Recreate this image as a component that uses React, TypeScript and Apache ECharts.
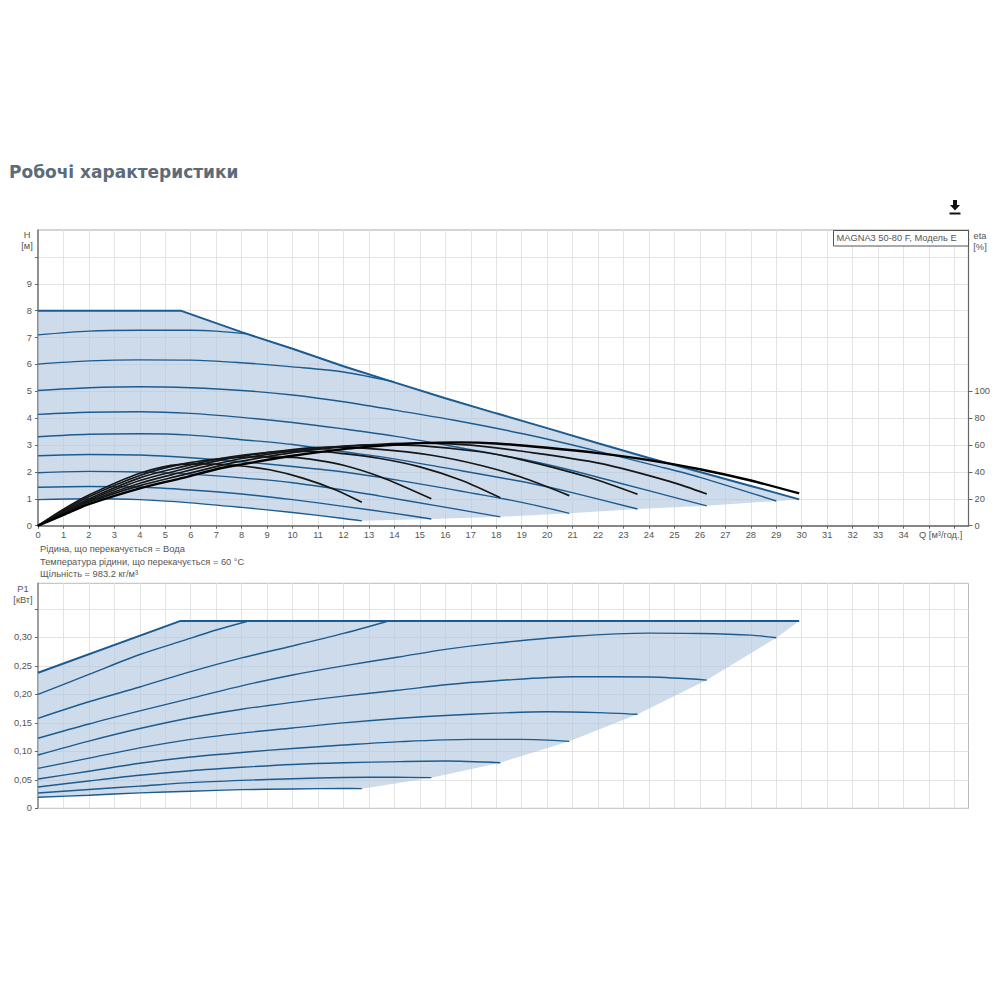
import { useEffect, useRef } from "react";
import * as echarts from "echarts";

type Pt = [number, number];

// H(Q), pump curves from the highest speed down
const hEdge: Pt[] = [[0, 8], [5.6, 8], [8, 7.2], [10, 6.58], [12, 5.93], [14, 5.33], [16, 4.74], [18, 4.18], [20, 3.63], [22, 3.07], [24, 2.52], [26, 2.0], [28, 1.48], [29.9, 0.98]];
const hCurve71: Pt[] = [[0, 7.1], [2, 7.24], [4, 7.27], [6, 7.27], [7, 7.24], [8.2, 7.14]];
const hCurve60: Pt[] = [[0, 6.01], [2, 6.13], [4, 6.17], [6, 6.16], [8, 6.06], [10, 5.91], [12, 5.72], [14, 5.35]];
const hCurve50: Pt[] = [[0, 5.03], [2, 5.13], [4, 5.17], [6, 5.13], [8, 5.03], [10, 4.86], [12, 4.61], [14, 4.3], [16.3, 3.93], [19, 3.43], [21, 3.0], [24.44, 2.19], [26, 1.8], [29, 0.92]];
const hCurve41: Pt[] = [[0, 4.14], [2, 4.22], [4, 4.24], [6, 4.18], [8, 4.03], [10, 3.84], [12, 3.6], [14, 3.33], [16.7, 2.88], [19, 2.48], [20.9, 2.07], [22.87, 1.58], [24.8, 1.1], [26.27, 0.74]];
const hCurve33: Pt[] = [[0, 3.31], [2, 3.4], [4, 3.42], [6, 3.37], [8, 3.2], [10, 3.02], [12, 2.75], [13.44, 2.57], [16, 2.15], [19.34, 1.58], [20.9, 1.25], [23.55, 0.62]];
const hCurve26: Pt[] = [[0, 2.6], [2, 2.65], [4, 2.63], [6, 2.53], [8, 2.38], [10, 2.2], [12, 2.0], [13.44, 1.8], [16.07, 1.38], [19, 0.87], [20.87, 0.46]];
const hCurve20: Pt[] = [[0, 1.97], [2, 2.02], [4, 2.0], [6, 1.92], [8, 1.78], [10, 1.6], [12, 1.33], [13.44, 1.1], [15.8, 0.72], [18.16, 0.33]];
const hCurve14: Pt[] = [[0, 1.43], [2, 1.46], [4, 1.44], [6, 1.33], [8, 1.18], [10, 0.97], [12, 0.72], [14, 0.46], [15.45, 0.25]];
const hCurve10: Pt[] = [[0, 0.97], [2, 1.0], [4, 0.97], [6, 0.85], [8, 0.68], [10, 0.49], [12, 0.27], [12.72, 0.18]];

// eta(Q) curves, plotted on the H scale
const etaCurve1: Pt[] = [[0, 0], [1, 0.61], [2, 1.14], [4, 1.95], [5.6, 2.28], [6.5, 2.3], [7.8, 2.24], [9.1, 2.08], [10.4, 1.77], [11.7, 1.33], [12.72, 0.87]];
const etaCurve2: Pt[] = [[0, 0], [1, 0.57], [2, 1.08], [4, 1.87], [5.6, 2.28], [7, 2.48], [8.5, 2.56], [10, 2.54], [11, 2.43], [12, 2.25], [13.44, 1.82], [15.45, 1.0]];
const etaCurve3: Pt[] = [[0, 0], [1, 0.53], [2, 1.0], [4, 1.78], [5.6, 2.18], [7, 2.47], [8, 2.62], [9.5, 2.75], [11, 2.76], [12, 2.68], [13.44, 2.5], [15, 2.19], [16.6, 1.7], [18.16, 1.04]];
const etaCurve4: Pt[] = [[0, 0], [1, 0.5], [2, 0.95], [4, 1.68], [5.6, 2.08], [7, 2.4], [8, 2.58], [10, 2.83], [11.5, 2.92], [13.44, 2.84], [15.4, 2.63], [17.37, 2.25], [18.94, 1.82], [20.87, 1.12]];
const etaCurve5: Pt[] = [[0, 0], [1, 0.47], [2, 0.91], [4, 1.58], [5.6, 1.98], [7, 2.3], [8, 2.5], [10, 2.78], [12, 2.96], [13.5, 3.01], [15, 2.98], [17.37, 2.75], [18.94, 2.47], [21.56, 1.82], [23.55, 1.17]];
const etaCurve6: Pt[] = [[0, 0], [1, 0.44], [2, 0.87], [4, 1.49], [5.6, 1.87], [7, 2.2], [8, 2.4], [10, 2.72], [12, 2.94], [13.44, 3.03], [15, 3.07], [17, 3.0], [18.94, 2.78], [22.08, 2.32], [24.84, 1.64], [26.27, 1.18]];
const etaCurve7: Pt[] = [[0, 0], [1, 0.4], [2, 0.8], [4, 1.39], [5.6, 1.76], [7, 2.1], [8, 2.28], [10, 2.6], [12, 2.85], [13.84, 3.0], [15, 3.07], [16.5, 3.1], [18, 3.06], [20, 2.9], [22, 2.7], [24, 2.44], [26, 2.1], [28, 1.68], [29.9, 1.2]];

// P1(Q)
const pEdge: Pt[] = [[0, 0.238], [5.6, 0.329], [29.9, 0.329]];
const pCurve71: Pt[] = [[0, 0.2], [2, 0.235], [4, 0.27], [5.6, 0.293], [7, 0.313], [8.2, 0.328]];
const pCurve60: Pt[] = [[0, 0.158], [2, 0.187], [4, 0.213], [6, 0.24], [8, 0.264], [10, 0.285], [12, 0.307], [13.7, 0.328]];
const pCurve50: Pt[] = [[0, 0.123], [2, 0.148], [4, 0.171], [6, 0.193], [8, 0.215], [10, 0.234], [12, 0.25], [14.23, 0.266], [16, 0.279], [18, 0.29], [21, 0.302], [24, 0.3076], [26, 0.307], [28, 0.304], [29, 0.2994]];
const pCurve41: Pt[] = [[0, 0.0936], [2, 0.118], [4, 0.14], [6, 0.159], [8, 0.174], [10, 0.186], [12, 0.197], [14.23, 0.2076], [16, 0.217], [18, 0.224], [21, 0.231], [24, 0.2304], [26.27, 0.2251]];
const pCurve33: Pt[] = [[0, 0.07], [2, 0.088], [4, 0.106], [6, 0.121], [8, 0.132], [10, 0.141], [12, 0.15], [14.23, 0.158], [16, 0.163], [18, 0.167], [20, 0.1695], [22, 0.168], [23.55, 0.165]];
const pCurve26: Pt[] = [[0, 0.0515], [2, 0.065], [4, 0.079], [6, 0.09], [8, 0.098], [10, 0.105], [12, 0.111], [14.23, 0.117], [17, 0.121], [19, 0.121], [20.87, 0.1175]];
const pCurve20: Pt[] = [[0, 0.0374], [2, 0.048], [4, 0.058], [6, 0.066], [8, 0.072], [10, 0.077], [12, 0.08], [14.23, 0.082], [16, 0.083], [18.16, 0.08]];
const pCurve14: Pt[] = [[0, 0.0269], [2, 0.033], [4, 0.039], [6, 0.045], [8, 0.049], [10, 0.052], [12, 0.054], [14, 0.0548], [15.45, 0.0538]];
const pCurve10: Pt[] = [[0, 0.0193], [2, 0.023], [4, 0.027], [6, 0.03], [8, 0.0327], [10, 0.034], [12, 0.0347], [12.72, 0.0345]];

const qTicks = Array.from({ length: 37 }, (_, i) => i);
const qLabels = qTicks.slice(0, 35);
const hTicks = [0, 1, 2, 3, 4, 5, 6, 7, 8, 9, 10];
const hLabels = [0, 1, 2, 3, 4, 5, 6, 7, 8, 9];
const etaTicks = [0, 20, 40, 60, 80, 100];
const pTicks = [0, 0.05, 0.1, 0.15, 0.2, 0.25, 0.3, 0.35];
const pLabels = [0, 0.05, 0.1, 0.15, 0.2, 0.25, 0.3];

const title = "Робочі характеристики";
const modelLabel = "MAGNA3 50-80 F, Модель E";
const notes = [
  "Рідина, що перекачується = Вода",
  "Температура рідини, що перекачується = 60 °C",
  "Щільність = 983.2 кг/м³",
];

const FONT = "'Liberation Sans', Arial, sans-serif";
const BLUE = "#1c5b90";
const FILL = "rgba(178,199,222,0.65)";
const TEXT = "#555";

function lowerEnds(curves: Pt[][]): Pt[] {
  // the shaded area closes through the end point of each curve
  return curves.map((c) => c[c.length - 1]).reverse();
}

function areaSeries(outline: Pt[], axis: number) {
  return {
    type: "custom" as const,
    xAxisIndex: axis,
    yAxisIndex: axis === 0 ? 0 : 2,
    silent: true,
    z: 1,
    data: [0],
    renderItem: (_: unknown, api: any) => ({
      type: "polygon",
      shape: { points: outline.map((p) => api.coord(p)) },
      style: { fill: FILL },
    }),
  };
}

function lineSeries(data: Pt[], axis: number, color: string, width: number, smooth = true, z = 3) {
  return {
    type: "line" as const,
    xAxisIndex: axis,
    yAxisIndex: axis === 0 ? 0 : 2,
    data,
    symbol: "none",
    silent: true,
    z,
    smooth: smooth ? 0.3 : false,
    lineStyle: { color, width },
  };
}

function label(text: string, x: number, y: number, align = "left", fontSize = 9.3, fill = TEXT) {
  return {
    type: "text",
    x,
    y,
    z: 20,
    style: { text, fontSize, fontFamily: FONT, fill, align, verticalAlign: "middle" },
  };
}

export default function App() {
  const ref = useRef<HTMLDivElement>(null);

  useEffect(() => {
    if (!ref.current) return;
    const chart = echarts.init(ref.current, undefined, { renderer: "svg" });

    const hBlue = [hCurve71, hCurve60, hCurve50, hCurve41, hCurve33, hCurve26, hCurve20, hCurve14, hCurve10];
    const etaBlack = [etaCurve1, etaCurve2, etaCurve3, etaCurve4, etaCurve5, etaCurve6];
    const pBlue = [pCurve71, pCurve60, pCurve50, pCurve41, pCurve33, pCurve26, pCurve20, pCurve14, pCurve10];

    const hOutline: Pt[] = [
      ...hEdge,
      ...lowerEnds([hCurve10, hCurve14, hCurve20, hCurve26, hCurve33, hCurve41, hCurve50]),
      ...[...hCurve10].reverse(),
    ];
    const pOutline: Pt[] = [
      ...pEdge,
      ...lowerEnds([pCurve10, pCurve14, pCurve20, pCurve26, pCurve33, pCurve41, pCurve50]),
      ...[...pCurve10].reverse(),
    ];

    const splitLine = { show: true, lineStyle: { color: "#e3e3e3", width: 1 } };
    const valueLabel = { color: TEXT, fontSize: 9.3, fontFamily: FONT };

    chart.setOption({
      animation: false,
      backgroundColor: "#fff",
      grid: [
        { left: 38, width: 930.5, top: 230, height: 295.7, show: true, borderColor: "#aaa", borderWidth: 1 },
        { left: 38, width: 930.5, top: 583.3, height: 225, show: true, borderColor: "#bbb", borderWidth: 1 },
      ],
      xAxis: [
        {
          type: "value",
          gridIndex: 0,
          min: 0,
          max: 36.55,
          interval: 1,
          splitLine,
          axisLine: { show: true, lineStyle: { color: "#666", width: 1.5 } },
          axisTick: { show: true, length: 3, customValues: qTicks, lineStyle: { color: "#666" } },
          axisLabel: { ...valueLabel, margin: 5, customValues: qLabels },
        },
        {
          type: "value",
          gridIndex: 1,
          min: 0,
          max: 36.55,
          interval: 1,
          splitLine,
          axisLine: { show: true, lineStyle: { color: "#ccc", width: 1 } },
          axisTick: { show: false, customValues: qTicks },
          axisLabel: { show: false },
        },
      ],
      yAxis: [
        {
          type: "value",
          gridIndex: 0,
          min: 0,
          max: 11,
          interval: 1,
          splitLine,
          axisLine: { show: true, lineStyle: { color: "#777", width: 1.5 } },
          axisTick: { show: true, length: 3, customValues: hTicks, lineStyle: { color: "#666" } },
          axisLabel: { ...valueLabel, margin: 6, customValues: hLabels },
        },
        {
          type: "value",
          gridIndex: 0,
          position: "right",
          min: 0,
          max: 220,
          interval: 20,
          splitLine: { show: false },
          axisLine: { show: true, lineStyle: { color: "#666", width: 1.2 } },
          axisTick: { show: true, length: 4, customValues: etaTicks, lineStyle: { color: "#666" } },
          axisLabel: { ...valueLabel, margin: 6, customValues: etaTicks },
        },
        {
          type: "value",
          gridIndex: 1,
          min: 0,
          max: 0.395,
          interval: 0.05,
          splitLine,
          axisLine: { show: true, lineStyle: { color: "#888", width: 1.5 } },
          axisTick: { show: true, length: 3, customValues: pTicks, lineStyle: { color: "#666" } },
          axisLabel: {
            ...valueLabel,
            margin: 6,
            customValues: pLabels,
            formatter: (v: number) => (v === 0 ? "0" : v.toFixed(2).replace(".", ",")),
          },
        },
      ],
      series: [
        areaSeries(hOutline, 0),
        lineSeries(hEdge, 0, BLUE, 2, false),
        ...hBlue.map((c) => lineSeries(c, 0, BLUE, 1.4)),
        ...etaBlack.map((c) => lineSeries(c, 0, "#161616", 1.7, true, 4)),
        lineSeries(etaCurve7, 0, "#000", 2.4, true, 5),
        areaSeries(pOutline, 1),
        lineSeries(pEdge, 1, BLUE, 2, false),
        ...pBlue.map((c) => lineSeries(c, 1, BLUE, 1.4)),
      ],
      graphic: [
        {
          type: "text",
          x: 9,
          y: 172,
          style: {
            text: title,
            fontSize: 17,
            fontWeight: "bold",
            fontFamily: "'DejaVu Sans', sans-serif",
            fill: "#5c6b7a",
            verticalAlign: "middle",
          },
        },
        {
          type: "polygon",
          z: 20,
          shape: { points: [[953, 200], [957, 200], [957, 205], [960, 205], [955, 210.5], [950, 205], [953, 205]] },
          style: { fill: "#111" },
        },
        { type: "rect", z: 20, shape: { x: 949.5, y: 212.5, width: 11, height: 2 }, style: { fill: "#111" } },
        {
          type: "rect",
          z: 19,
          shape: { x: 833.5, y: 230.5, width: 135, height: 15.5 },
          style: { fill: "#fff", stroke: "#555", lineWidth: 1 },
        },
        label(modelLabel, 836.5, 238),
        label("H", 27, 235, "center"),
        label("[м]", 27, 246, "center"),
        label("eta", 980, 235.5, "center"),
        label("[%]", 980, 246.5, "center"),
        label("Q [м³/год.]", 919, 535),
        label(notes[0], 40, 549),
        label(notes[1], 40, 561.5),
        label(notes[2], 40, 573.5),
        label("P1", 23, 588.5, "center"),
        label("[кВт]", 23, 600, "center"),
      ],
    });

    return () => chart.dispose();
  }, []);

  return <div ref={ref} style={{ position: "absolute", left: 0, top: 0, width: 1000, height: 1000 }} />;
}
